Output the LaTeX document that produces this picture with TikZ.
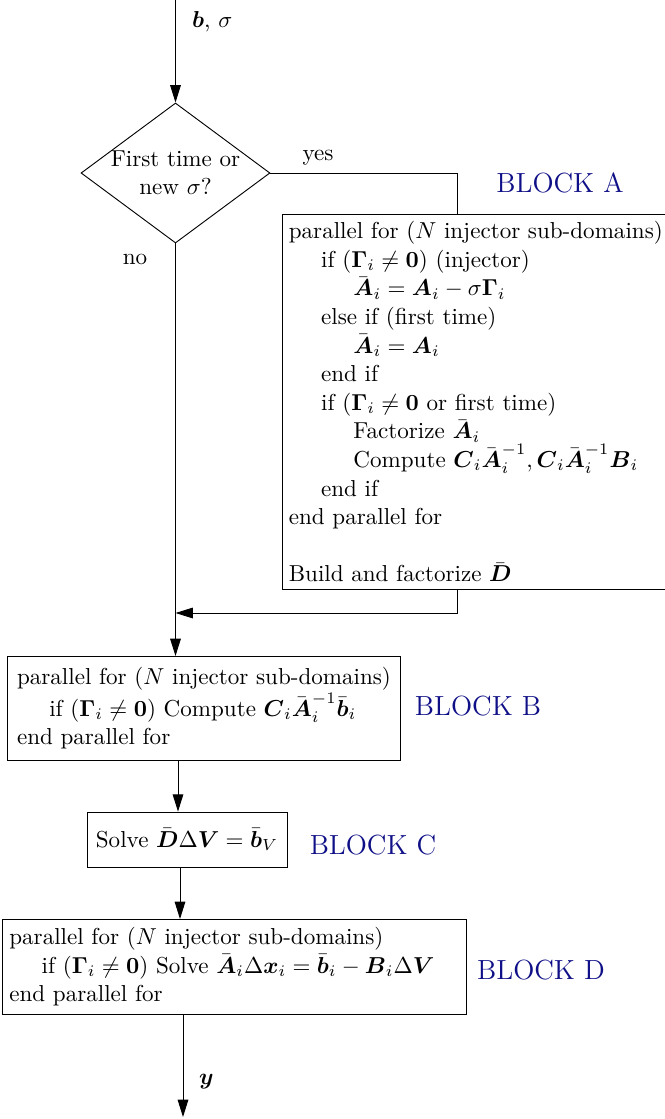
\documentclass[tikz,border=0pt]{standalone}
\usepackage{amsmath,amssymb}
\usetikzlibrary{positioning,shapes.geometric,arrows.meta}
\definecolor{blocktxt}{RGB}{15,15,135}
\newcommand{\indA}{\hspace*{14pt}}
\newcommand{\bA}{\bar{\boldsymbol A}}

\begin{document}
\begin{tikzpicture}[x=0.4335pt, y=-0.4335pt,
			box/.style={draw, rectangle, align=left, inner sep=3pt, anchor=north west, font=\fontsize{10}{12.4}\selectfont},
			decision/.style={draw, diamond, align=center, inner sep=-6pt, minimum width=81.9pt, minimum height=60.7pt},
			blocklabel/.style={text=blocktxt, font=\large},
			arrow/.style={-{Triangle[length=7.5pt,width=4.6pt]}}
			]
			\useasboundingbox (0,0) rectangle (665,1119);
			% Nodi
			\node[decision] (dec) at (175.5,173) {First time or\\new $\sigma$?};
			\node[box] (blockA) at (281.5,214) {parallel for ($N$ injector sub-domains)\\
				\indA if ($\boldsymbol\Gamma_i \neq \mathbf 0$) (injector)\\
				\indA\indA $\bA_i = \boldsymbol A_i - \sigma\boldsymbol\Gamma_i$\\
				\indA else if (first time)\\
				\indA\indA $\bA_i = \boldsymbol A_i$\\
				\indA end if\\
				\indA if ($\boldsymbol\Gamma_i \neq \mathbf 0$ or first time)\\
				\indA\indA Factorize $\bA_i$\\
				\indA\indA Compute $\boldsymbol C_i\bA_i^{-1}, \boldsymbol C_i\bA_i^{-1}\boldsymbol B_i$\\
				\indA end if\\
				end parallel for\\[12.4pt]
				Build and factorize $\bar{\boldsymbol D}$};
			\node[box, minimum width=170.4pt, minimum height=45pt] (blockB) at (7,656) {parallel for ($N$ injector sub-domains)\\
				\indA if ($\boldsymbol\Gamma_i \neq \mathbf 0$) Compute $\boldsymbol C_i\bA_i^{-1}\bar{\boldsymbol b}_i$\\
				end parallel for};
			\node[box, anchor=center, minimum width=86.7pt, minimum height=23.8pt] (blockC) at (187,839.5) {Solve $\bar{\boldsymbol D}\Delta\boldsymbol V = \bar{\boldsymbol b}_V$};
			\node[box, text width=195pt, minimum height=41pt] (blockD) at (2,919) {parallel for ($N$ injector sub-domains)\\
				\indA if ($\boldsymbol\Gamma_i \neq \mathbf 0$) Solve $\bA_i\Delta\boldsymbol x_i = \bar{\boldsymbol b}_i - \boldsymbol B_i\Delta\boldsymbol V$\\
				end parallel for};
			
			% Etichette
			\node[blocklabel] (labA) at (560,183) {BLOCK A};
			\node[blocklabel] (labB) at (478,706) {BLOCK B};
			\node[blocklabel] (labC) at (373,845) {BLOCK C};
			\node[blocklabel] (labD) at (541,970) {BLOCK D};
			\node[anchor=west] (inlab) at (184,22) {$\boldsymbol b$, $\sigma$};
			\node (yes) at (318,158) {yes};
			\node (no) at (135,259) {no};
			\node[anchor=west] (outlab) at (191,1082) {$\boldsymbol y$};
			
			% Punti
			\coordinate (in) at (175.5,0);
			\coordinate (ya) at (457,173);
			\coordinate (merge) at (175.5,613);
			\coordinate (out) at (183,1117);
			
			% Frecce principali
			\draw[arrow] (in) -- (dec.north);
			\draw (dec.east) -- (ya) -- (ya |- blockA.north);
			\draw[arrow] (ya |- blockA.south) |- (merge);
			\draw[arrow] (dec.south) -- (dec.south |- blockB.north);
			\draw[arrow] (blockB.south -| 178,0) -- (blockC.north -| 178,0);
			\draw[arrow] (blockC.south -| 180,0) -- (blockD.north -| 180,0);
			\draw[arrow] (blockD.south -| out) -- (out);
		\end{tikzpicture}
\end{document}
